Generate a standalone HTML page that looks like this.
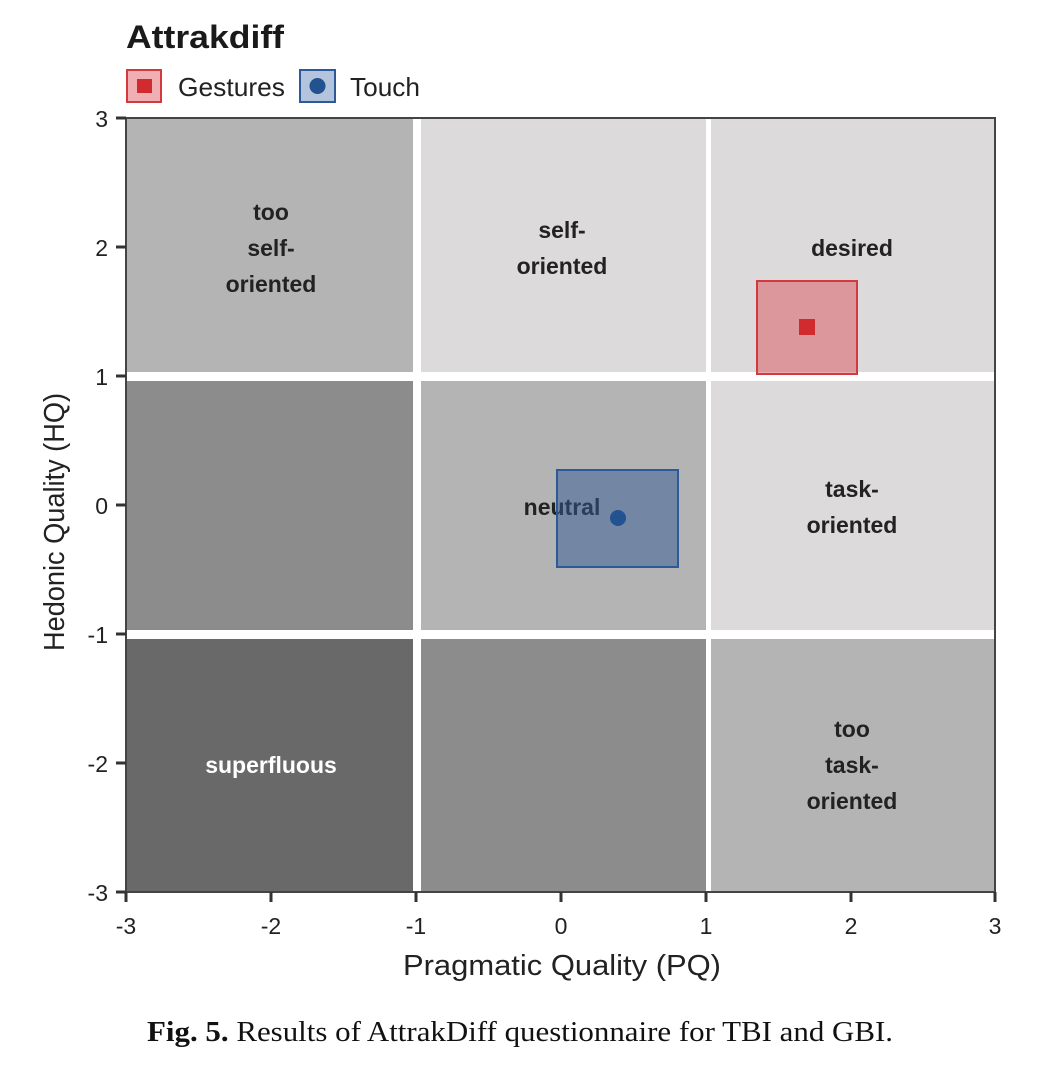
<!DOCTYPE html>
<html><head><meta charset="utf-8"><style>
html,body{margin:0;padding:0;background:#fff;}
svg{display:block;font-family:"Liberation Sans",Arial,sans-serif;}
</style></head><body>
<svg width="1044" height="1066" viewBox="0 0 1044 1066" xmlns="http://www.w3.org/2000/svg">
<rect width="1044" height="1066" fill="#fff"/>
<text x="126" y="48" font-size="32" font-weight="bold" fill="#1a1a1a" textLength="158" lengthAdjust="spacingAndGlyphs">Attrakdiff</text>
<rect x="127" y="70" width="34" height="32" fill="#f0b0b3" stroke="#d33a3d" stroke-width="2"/>
<rect x="137" y="79" width="15" height="14" fill="#d12b30"/>
<text x="178" y="96" font-size="26" fill="#222" textLength="107" lengthAdjust="spacingAndGlyphs">Gestures</text>
<rect x="300" y="70" width="35" height="32" fill="#b3c4dc" stroke="#2c5a99" stroke-width="2"/>
<circle cx="317.5" cy="86" r="8" fill="#22528f"/>
<text x="350" y="96" font-size="26" fill="#222" textLength="70" lengthAdjust="spacingAndGlyphs">Touch</text>
<rect x="126" y="118" width="869" height="774" fill="#fff"/>
<rect x="126" y="118" width="287" height="254" fill="#b4b4b4"/>
<rect x="421" y="118" width="285" height="254" fill="#dcdadb"/>
<rect x="711" y="118" width="284" height="254" fill="#dcdadb"/>
<rect x="126" y="381" width="287" height="249" fill="#8c8c8c"/>
<rect x="421" y="381" width="285" height="249" fill="#b4b4b4"/>
<rect x="711" y="381" width="284" height="249" fill="#dcdadb"/>
<rect x="126" y="639" width="287" height="253" fill="#696969"/>
<rect x="421" y="639" width="285" height="253" fill="#8c8c8c"/>
<rect x="711" y="639" width="284" height="253" fill="#b4b4b4"/>
<g font-size="23" font-weight="bold" fill="#222" text-anchor="middle">
<text x="271" y="220">too</text><text x="271" y="256">self-</text><text x="271" y="292">oriented</text>
<text x="562" y="238">self-</text><text x="562" y="274">oriented</text>
<text x="852" y="256">desired</text>
<text x="852" y="497">task-</text><text x="852" y="533">oriented</text>
<text x="562" y="515">neutral</text>
<text x="852" y="737">too</text><text x="852" y="773">task-</text><text x="852" y="809">oriented</text>
<text x="271" y="773" fill="#fff">superfluous</text>
</g>
<rect x="757" y="281" width="100" height="93" fill="rgba(220,60,70,0.42)" stroke="#d33a3d" stroke-width="2"/>
<rect x="799" y="319" width="16" height="16" fill="#d12b30"/>
<rect x="557" y="470" width="121" height="97" fill="rgba(50,90,150,0.5)" stroke="#2c5a99" stroke-width="2"/>
<circle cx="618" cy="518" r="8" fill="#22528f"/>
<rect x="126" y="118" width="869" height="774" fill="none" stroke="#444" stroke-width="2"/>
<g stroke="#333" stroke-width="3">
<line x1="116" y1="118" x2="126" y2="118"/><line x1="116" y1="247" x2="126" y2="247"/><line x1="116" y1="376" x2="126" y2="376"/>
<line x1="116" y1="505" x2="126" y2="505"/><line x1="116" y1="634" x2="126" y2="634"/><line x1="116" y1="763" x2="126" y2="763"/><line x1="116" y1="892" x2="126" y2="892"/>
<line x1="126" y1="892" x2="126" y2="902"/><line x1="271" y1="892" x2="271" y2="902"/><line x1="416" y1="892" x2="416" y2="902"/>
<line x1="561" y1="892" x2="561" y2="902"/><line x1="706" y1="892" x2="706" y2="902"/><line x1="851" y1="892" x2="851" y2="902"/><line x1="995" y1="892" x2="995" y2="902"/>
</g>
<g font-size="23" fill="#222" text-anchor="end">
<text x="108" y="127">3</text><text x="108" y="256">2</text><text x="108" y="385">1</text><text x="108" y="514">0</text>
<text x="108" y="643">-1</text><text x="108" y="772">-2</text><text x="108" y="901">-3</text>
</g>
<g font-size="23" fill="#222" text-anchor="middle">
<text x="126" y="934">-3</text><text x="271" y="934">-2</text><text x="416" y="934">-1</text><text x="561" y="934">0</text>
<text x="706" y="934">1</text><text x="851" y="934">2</text><text x="995" y="934">3</text>
</g>
<text x="403" y="975" font-size="29" fill="#222" textLength="318" lengthAdjust="spacingAndGlyphs">Pragmatic Quality (PQ)</text>
<text transform="translate(64,651) rotate(-90)" font-size="29" fill="#222" textLength="258" lengthAdjust="spacingAndGlyphs">Hedonic Quality (HQ)</text>
<text x="147" y="1041" font-size="29" fill="#111" font-family="Liberation Serif,serif" textLength="746" lengthAdjust="spacingAndGlyphs"><tspan font-weight="bold">Fig. 5.</tspan> Results of AttrakDiff questionnaire for TBI and GBI.</text>
</svg>
</body></html>
